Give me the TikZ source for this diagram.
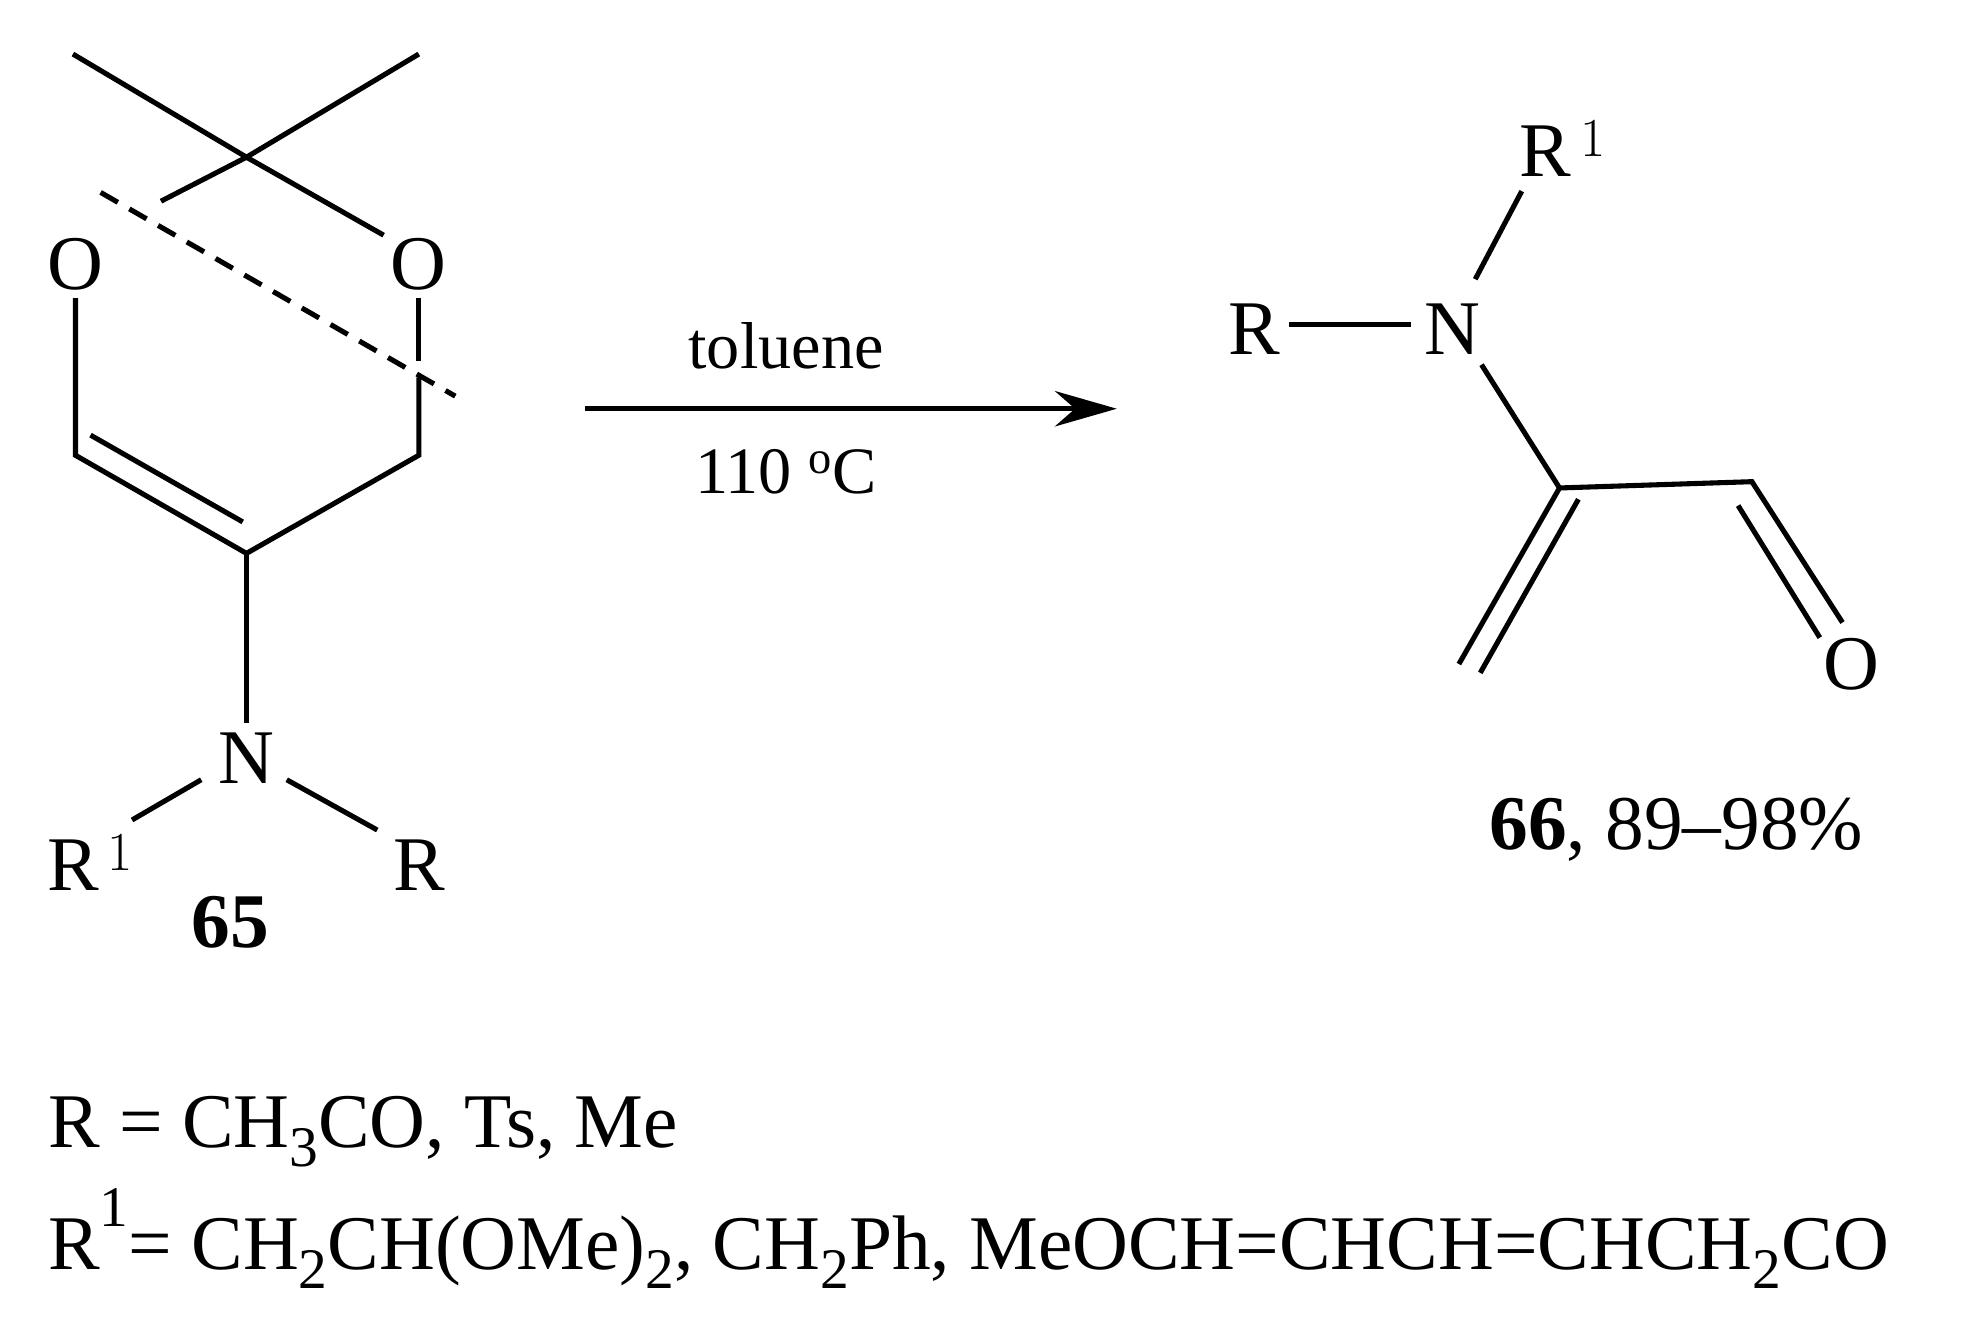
\documentclass[tikz,border=0pt]{standalone}
\usepackage{fontspec}
\setmainfont{Liberation Serif}
\usetikzlibrary{arrows.meta}
\newcommand{\sbx}[1]{\raisebox{-0.25em}{\fontsize{26}{30}\selectfont #1}}
\begin{document}
\begin{tikzpicture}[x=0.02cm,y=-0.02cm,
  bond/.style={line width=2.3pt},
  lab/.style={inner sep=0pt,font=\fontsize{35}{40}\selectfont},
  cond/.style={inner sep=0pt,font=\fontsize{30}{36}\selectfont}]
\useasboundingbox (0,0) rectangle (1568,1053);
% left molecule
\coordinate (m1) at (58,43); \coordinate (m2) at (333,43); \coordinate (c) at (196,125);
\node[lab] (o1) at (60,210) {O}; \node[lab] (o2) at (333,210) {O};
\draw[bond] (m1)--(c)--(m2);
\draw[bond] (c)--(128,160); \draw[bond] (c)--(305,187);
\coordinate (a1) at (60,362); \coordinate (a2) at (196,440); \coordinate (a3) at (333,362);
\draw[bond] (60,237)--(a1)--(a2)--(a3)--(333,300);
\draw[bond] (333,287)--(333,237);
\draw[bond] (72,346)--(193,415);
\draw[bond,dashed,dash pattern=on 9pt off 6pt] (80,153)--(362,315);
\node[lab] (n1) at (196,603) {N};
\draw[bond] (a2)--(196,575);
\draw[bond] (160,620)--(105,652);
\draw[bond] (228,620)--(300,660);
\node[lab] (r1a) at (72,686) {R$^{\,1}$};
\node[lab] (ra) at (333,688) {R};
\node[lab,font=\fontsize{35}{40}\selectfont\bfseries] (l65) at (183,733) {65};
% arrow
\draw[bond,-{Stealth[length=28pt,width=16pt]}] (465,325)--(888,325);
\node[cond] (t1) at (625,275) {toluene};
\node[cond] (t2) at (625,375) {110 $^{\mathrm{o}}$C};
% right molecule
\node[lab] (rb) at (997,262) {R};
\node[lab] (n2) at (1155,262) {N};
\node[lab] (r1b) at (1243,118) {R$^{\,1}$};
\draw[bond] (1025,258)--(1122,258);
\draw[bond] (1173,222)--(1210,152);
\coordinate (b1) at (1240,388); \coordinate (b2) at (1393,383);
\draw[bond] (1178,290)--(b1)--(1160,528);
\draw[bond] (1255,397)--(1177,535);
\draw[bond] (b1)--(b2)--(1465,495);
\draw[bond] (1382,402)--(1447,507);
\node[lab] (o3) at (1472,528) {O};
\node[lab] (l66) at (1333,660) {\textbf{66}, 89–98\%};
% notes
\node[lab,anchor=west] (n1t) at (38,900) {R = CH\sbx{3}CO, Ts, Me};
\node[lab,anchor=west] (n2t) at (38,985) {R\raisebox{0.55em}{\fontsize{26}{30}\selectfont 1}= CH\sbx{2}CH(OMe)\sbx{2}, CH\sbx{2}Ph, MeOCH=CHCH=CHCH\sbx{2}CO};
\end{tikzpicture}
\end{document}
